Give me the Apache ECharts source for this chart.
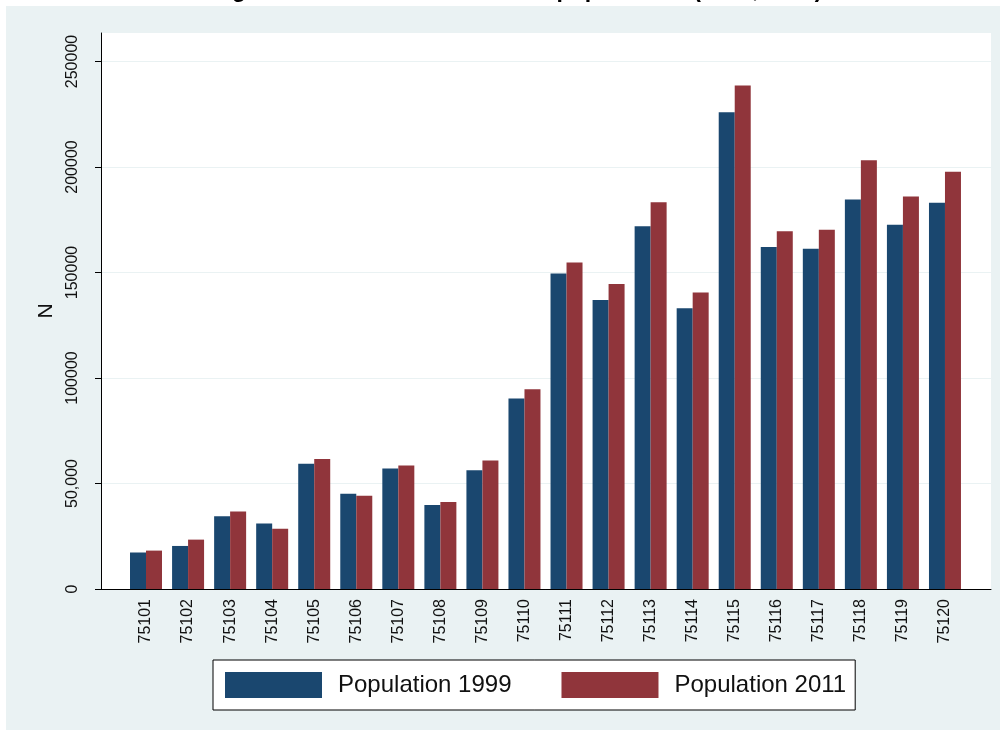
<!DOCTYPE html>
<html>
<head>
<meta charset="utf-8">
<script src="https://cdn.jsdelivr.net/npm/echarts@6/dist/echarts.min.js"></script>
<style>
  html, body { margin: 0; padding: 0; background: #ffffff; }
  #chart { width: 1005px; height: 735px; }
</style>
</head>
<body>
<div id="chart"></div>
<script>
// Paris arrondissement codes and their populations in the two census years
const districts = ['75101', '75102', '75103', '75104', '75105', '75106', '75107', '75108', '75109', '75110',
                   '75111', '75112', '75113', '75114', '75115', '75116', '75117', '75118', '75119', '75120'];
const pop1999 = [17300, 20400, 34500, 31000, 59400, 45200, 57100, 39800, 56300, 90300,
                 149500, 137000, 171900, 133000, 226000, 162100, 161300, 184600, 172600, 183000];
const pop2011 = [18200, 23400, 36700, 28500, 61600, 44200, 58500, 41200, 60900, 94700,
                 154700, 144600, 183300, 140500, 238600, 169500, 170200, 203200, 186000, 197800];

// Y-axis tick labels, one per step of yStep starting from zero
const yTickLabels = ['0', '50,000', '100000', '150000', '200000', '250000'];
const yStep = 50000;
const yMax = 263500;
const yTickValues = yTickLabels.map((_, i) => i * yStep);

const seriesNames = ['Population 1999', 'Population 2011'];
const titleText = 'Figure 1: Paris arrondissement populations (1999, 2011)';

const FONT = '"Liberation Sans", Arial, sans-serif';
const NAVY = '#1a476f';
const MAROON = '#90353b';
const REGION_BG = '#eaf2f3';

const chart = echarts.init(document.getElementById('chart'), null, { renderer: 'canvas' });

chart.setOption({
  backgroundColor: '#ffffff',
  animation: false,
  textStyle: { fontFamily: FONT },
  graphic: [
    {
      type: 'text',
      z: -20,
      style: {
        text: titleText,
        x: 517, y: -20.5,
        align: 'center', verticalAlign: 'top',
        font: 'bold 23px ' + FONT,
        fill: '#000000'
      }
    },
    {
      type: 'rect',
      z: -10,
      shape: { x: 6, y: 6, width: 994, height: 724 },
      style: { fill: REGION_BG }
    }
  ],
  grid: [
    { left: 101, right: 14, top: 33, bottom: 146, show: true, backgroundColor: '#ffffff', borderWidth: 0 },
    { left: 125, right: 39, top: 33, bottom: 146 }
  ],
  xAxis: [
    {
      gridIndex: 0, type: 'category', data: [''],
      axisLine: { show: true, lineStyle: { color: '#000000', width: 1 } },
      axisTick: { show: false }, axisLabel: { show: false }, splitLine: { show: false }
    },
    {
      gridIndex: 1, type: 'category', data: districts,
      axisLine: { show: false }, axisTick: { show: false },
      axisLabel: { rotate: 90, fontSize: 16, color: '#111111', margin: 10, fontFamily: FONT }
    }
  ],
  yAxis: [
    {
      gridIndex: 0, type: 'value', min: 0, max: yMax, interval: yStep,
      name: 'N', nameLocation: 'middle', nameGap: 42,
      nameTextStyle: { fontSize: 21, color: '#111111', fontFamily: FONT },
      axisLine: { show: true, lineStyle: { color: '#000000', width: 1 } },
      axisTick: { show: true, length: 6, lineStyle: { color: '#000000' }, customValues: yTickValues },
      axisLabel: {
        customValues: yTickValues,
        rotate: 90, fontSize: 16, color: '#111111', margin: 20, fontFamily: FONT,
        formatter: v => {
          const i = Math.round(v / yStep);
          return (i * yStep === v && yTickLabels[i] !== undefined) ? yTickLabels[i] : '';
        }
      },
      splitLine: { show: true, lineStyle: { color: REGION_BG, width: 1 } }
    },
    { gridIndex: 1, type: 'value', min: 0, max: yMax, interval: yStep, show: false }
  ],
  legend: {
    data: seriesNames,
    left: 213, top: 660,
    orient: 'horizontal',
    icon: 'rect',
    itemWidth: 97, itemHeight: 26, itemGap: 50,
    padding: [12, 9, 12, 12],
    borderColor: '#000000', borderWidth: 1,
    backgroundColor: '#ffffff',
    textStyle: { fontSize: 24, color: '#111111', fontFamily: FONT, padding: [0, 0, 0, 11] }
  },
  series: [
    {
      type: 'bar', name: seriesNames[0], xAxisIndex: 1, yAxisIndex: 1,
      data: pop1999, barWidth: 16, barGap: '0%',
      itemStyle: { color: NAVY }
    },
    {
      type: 'bar', name: seriesNames[1], xAxisIndex: 1, yAxisIndex: 1,
      data: pop2011, barWidth: 16, barGap: '0%',
      itemStyle: { color: MAROON }
    }
  ]
});
</script>
</body>
</html>
